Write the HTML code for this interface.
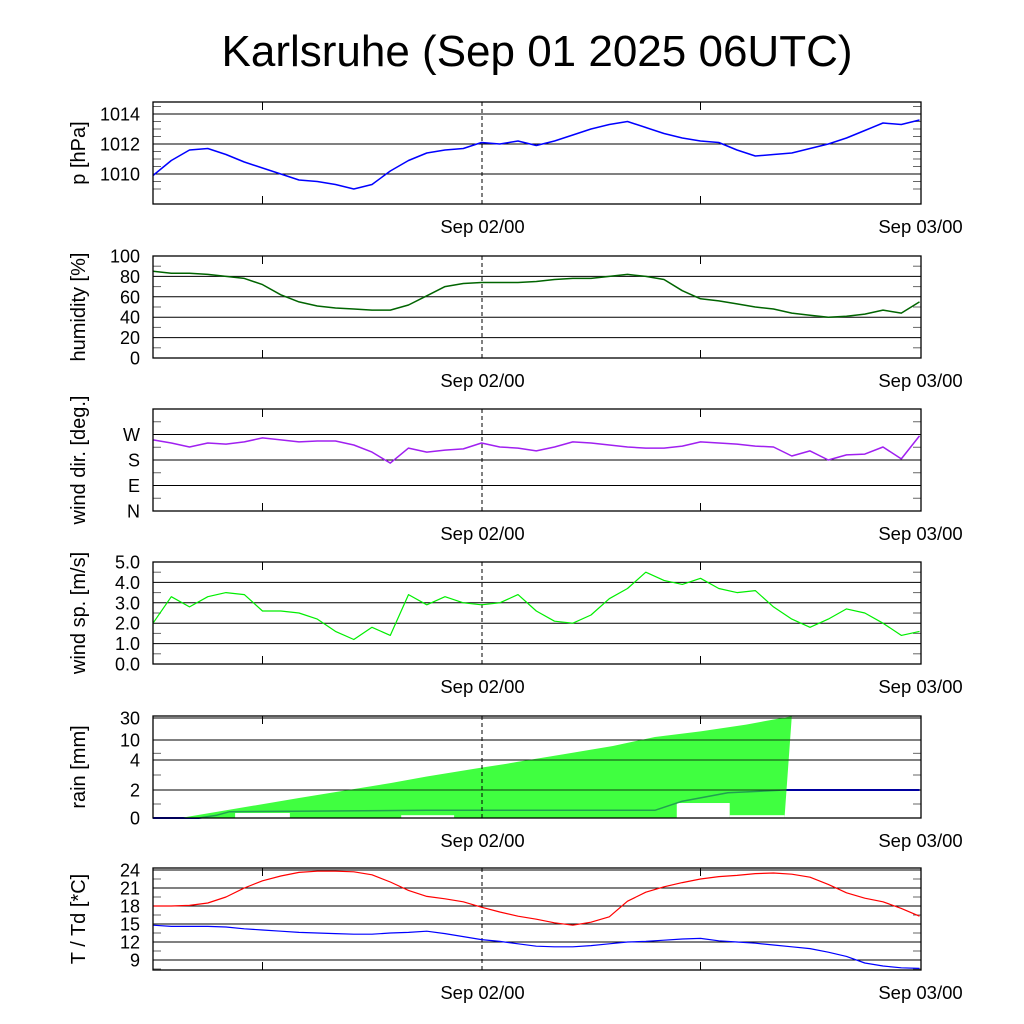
<!DOCTYPE html>
<html><head><meta charset="utf-8"><title>Karlsruhe meteogram</title>
<style>
body{margin:0;background:#fff;}
svg{display:block;font-family:"Liberation Sans",sans-serif;}
</style></head>
<body>
<svg id="chart" width="1024" height="1024" viewBox="0 0 1024 1024" xmlns="http://www.w3.org/2000/svg">
<rect width="1024" height="1024" fill="#fff"/>
<text x="537" y="66" font-size="44" text-anchor="middle">Karlsruhe (Sep 01 2025 06UTC)</text>
<g id="panels"></g>
</svg>
<script>
// hours since Sep 01 06UTC
const hours = [0,1,2,3,4,5,6,7,8,9,10,11,12,13,14,15,16,17,18,19,20,21,22,23,24,25,26,27,28,29,30,31,32,33,34,35,36,37,38,39,40,41,42];
const pressure = [1009.9,1010.9,1011.6,1011.7,1011.3,1010.8,1010.4,1010.0,1009.6,1009.5,1009.3,1009.0,1009.3,1010.2,1010.9,1011.4,1011.6,1011.7,1012.1,1012.0,1012.2,1011.9,1012.2,1012.6,1013.0,1013.3,1013.5,1013.1,1012.7,1012.4,1012.2,1012.1,1011.6,1011.2,1011.3,1011.4,1011.7,1012.0,1012.4,1012.9,1013.4,1013.3,1013.6];
const humidity = [85,83,83,82,80,78,72,62,55,51,49,48,47,47,52,61,70,73,74,74,74,75,77,78,78,80,82,80,77,66,58,56,53,50,48,44,42,40,41,43,47,44,55];
const windDir = [251,240,226,240,236,244,258,251,244,247,247,233,208,169,222,208,215,219,240,226,222,212,226,244,240,233,226,222,222,229,244,240,236,229,226,194,212,180,198,201,226,184,265];
const windSpeed = [2.0,3.3,2.8,3.3,3.5,3.4,2.6,2.6,2.5,2.2,1.6,1.2,1.8,1.4,3.4,2.9,3.3,3.0,2.9,3.0,3.4,2.6,2.1,2.0,2.4,3.2,3.7,4.5,4.1,3.9,4.2,3.7,3.5,3.6,2.8,2.2,1.8,2.2,2.7,2.5,2.0,1.4,1.6];
const temperature = [18.0,18.0,18.1,18.5,19.5,21.0,22.2,23.0,23.6,23.8,23.8,23.7,23.2,22.0,20.6,19.6,19.2,18.7,17.8,17.0,16.3,15.8,15.2,14.8,15.3,16.2,18.8,20.3,21.2,21.9,22.5,22.9,23.1,23.4,23.5,23.3,22.8,21.6,20.2,19.3,18.7,17.6,16.3];
const dewpoint = [14.8,14.6,14.6,14.6,14.5,14.2,14.0,13.8,13.6,13.5,13.4,13.3,13.3,13.5,13.6,13.8,13.4,12.9,12.4,12.1,11.7,11.3,11.2,11.2,11.4,11.7,12.0,12.1,12.3,12.5,12.6,12.2,12.0,11.8,11.5,11.2,10.9,10.3,9.6,8.5,8.0,7.7,7.6];
const rainAreaHours = [1.5,8,13,15,18,19.3,20,22.5,25.2,27.5,30,32.5,35,34.6];
const rainAreaValues = [0,1.43,2.46,2.9,3.49,3.73,3.88,5.74,8.2,12.7,17.8,24,31.6,0];
const rainGapStart = [4.5,13.6,28.7,31.6];
const rainGapEnd = [7.5,16.5,31.6,34.6];
const rainGapValue = [0.36,0.2,1.07,0.2];
const rainCumHours = [0,2.5,3.5,4.2,15,27.5,29,31.5,34.6,42];
const rainCumValues = [0,0,0.2,0.45,0.55,0.55,1.2,1.8,2.0,2.0];
const xTickLabels = ["Sep 02/00","Sep 03/00"];
const xTickHours = [18,42];

const NS="http://www.w3.org/2000/svg";
const X0=153, X1=921, PXH=18.25;
const xs = h => X0 + h*PXH;
const root=document.getElementById('panels');
function el(tag,attrs,parent){const e=document.createElementNS(NS,tag);for(const k in attrs)e.setAttribute(k,attrs[k]);(parent||root).appendChild(e);return e;}

function panel(name,top,bot,ymap,gridVals,labels,minorVals,title){
  const g=el('g',{});
  
  
  gridVals.forEach((v,i)=>{
    const y=ymap(v);
    if(Math.abs(y-bot)>1 && Math.abs(y-top)>1){
      const l=el('line',{x1:X0,x2:X1,y1:y,y2:y,stroke:'#000','stroke-width':1},g);
      
      
    }
    const t=el('text',{x:140,y:y+6.5,'font-size':18,'text-anchor':'end'},g);
    t.textContent=labels[i];
    
    
  });
  minorVals.forEach(v=>{const y=ymap(v);
    el('line',{x1:X0,x2:X0+8,y1:y,y2:y,stroke:'#666','stroke-width':1},g);
    el('line',{x1:X1-8,x2:X1,y1:y,y2:y,stroke:'#666','stroke-width':1},g);});
  [6,30].forEach(h=>{const x=xs(h);
    el('line',{x1:x,x2:x,y1:bot-8,y2:bot,stroke:'#000'},g);
    el('line',{x1:x,x2:x,y1:top,y2:top+8,stroke:'#000'},g);});
  const d=el('line',{x1:xs(18)+0.5,x2:xs(18)+0.5,y1:top,y2:bot,stroke:'#000','stroke-dasharray':'4,3'},g);
  
  
  xTickHours.forEach((h,i)=>{
    const t=el('text',{x:Math.min(xs(h)+1,922),y:bot+29,'font-size':18.5,'text-anchor':'middle'},g);
    t.textContent=xTickLabels[i];
    
    
  });
  const yt=el('text',{x:0,y:0,'font-size':20,'text-anchor':'middle',transform:`translate(85,${(top+bot)/2}) rotate(-90)`},g);
  yt.textContent=title;
  
  
  return g;
}
function frame(g,top,bot,name){
  const r=el('rect',{x:X0,y:top,width:X1-X0,height:bot-top,fill:'none',stroke:'#000','stroke-width':1.3},g);
  
  
}
function series(g,hs,vals,ymap,color,name,w){
  const pts=hs.map((h,i)=>xs(h).toFixed(1)+','+ymap(vals[i]).toFixed(1)).join(' ');
  const p=el('polyline',{points:pts,fill:'none',stroke:color,'stroke-width':w||1.5,'stroke-linejoin':'round'},g);
  
  
  return p;
}

// Pressure
{const top=102,bot=204,ym=v=>114+(1014-v)*15;
 const g=panel('pressure',top,bot,ym,[1014,1012,1010],['1014','1012','1010'],[1009,1009.5,1010.5,1011,1011.5,1012.5,1013,1013.5,1014.5],'p [hPa]');
 series(g,hours,pressure,ym,'#0000ff','pressure-line');frame(g,top,bot,'pressure');}
// Humidity
{const top=256,bot=358,ym=v=>bot-v*1.02;
 const g=panel('humidity',top,bot,ym,[100,80,60,40,20,0],['100','80','60','40','20','0'],[10,30,50,70,90],'humidity [%]');
 series(g,hours,humidity,ym,'#006400','humidity-line');frame(g,top,bot,'humidity');}
// Wind direction
{const top=409,bot=511,ym=v=>bot-v*25.5/90;
 const g=panel('wind-dir',top,bot,ym,[270,180,90,0],['W','S','E','N'],[45,135,225,315],'wind dir. [deg.]');
 series(g,hours,windDir,ym,'#a020f0','wind-direction-line');frame(g,top,bot,'wind-dir');}
// Wind speed
{const top=562,bot=664,ym=v=>bot-v*20.4;
 const g=panel('wind-speed',top,bot,ym,[5,4,3,2,1,0],['5.0','4.0','3.0','2.0','1.0','0.0'],[0.5,1.5,2.5,3.5,4.5],'wind sp. [m/s]');
 series(g,hours,windSpeed,ym,'#00ee00','wind-speed-line',1.2);frame(g,top,bot,'wind-speed');}
// Rain
{const top=716,bot=818;
 const rv=[0,2,4,10,30],ry=[818,790,760,740,718];
 const ym=v=>{for(let i=0;i<rv.length-1;i++){if(v<=rv[i+1])return ry[i]+(v-rv[i])/(rv[i+1]-rv[i])*(ry[i+1]-ry[i]);}return 718-(v-30)*1.1;};
 const g=panel('rain',top,bot,ym,[30,10,4,2,0],['30','10','4','2','0'],[1,3,6],'rain [mm]');
 series(g,rainCumHours,rainCumValues,ym,'#0000ff','rain-cumulative-line',2);
 const ptsA=rainAreaHours.map((h,i)=>xs(h).toFixed(1)+','+ym(rainAreaValues[i]).toFixed(1)).join(' ');
 const area=el('polygon',{points:ptsA,fill:'#40ff40'},g);
 
 
 rainGapStart.forEach((h,i)=>{const y=ym(rainGapValue[i]);
   el('rect',{x:xs(h),y:y,width:xs(rainGapEnd[i])-xs(h),height:bot-y,fill:'#fff'},g);});
 const cp=el('clipPath',{id:'rainclip'},g);
 el('polygon',{points:ptsA},cp);
 const over=series(g,rainCumHours,rainCumValues,ym,'#20a050','rain-cumulative-line-over-area',1.5);
 over.setAttribute('clip-path','url(#rainclip)');
 [30,10,4,2].forEach(v=>el('line',{x1:X0,x2:X1,y1:ym(v),y2:ym(v),stroke:'#000','stroke-opacity':0.75},g));
 el('line',{x1:xs(18)+0.5,x2:xs(18)+0.5,y1:top,y2:bot,stroke:'#000','stroke-dasharray':'4,3'},g);
 frame(g,top,bot,'rain');}
// Temperature
{const top=868,bot=970,ym=v=>870+(24-v)*6;
 const g=panel('temperature',top,bot,ym,[24,21,18,15,12,9],['24','21','18','15','12','9'],[22.5,19.5,16.5,13.5,10.5,7.5],'T / Td [*C]');
 series(g,hours,temperature,ym,'#ff0000','temperature-line',1.2);
 series(g,hours,dewpoint,ym,'#0000ff','dewpoint-line',1.2);frame(g,top,bot,'temperature');}
</script>
</body></html>
